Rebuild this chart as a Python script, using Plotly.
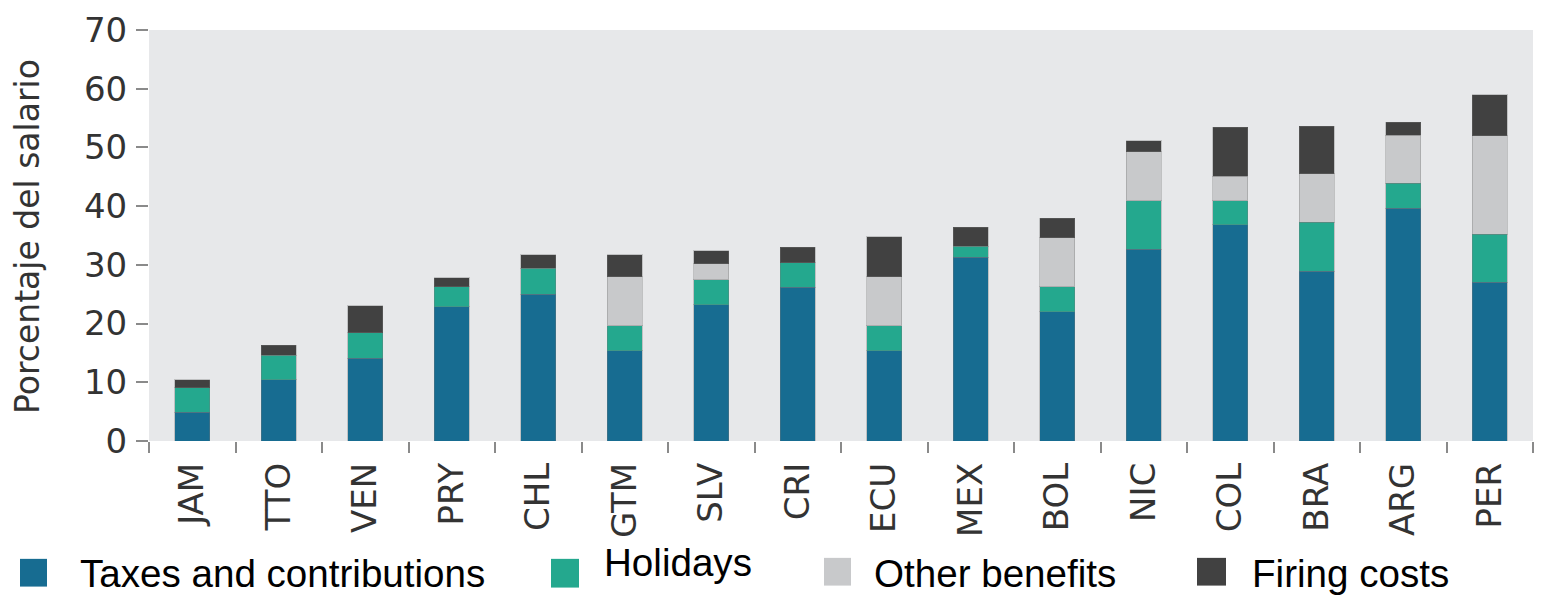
import plotly.graph_objects as go

countries = ["JAM", "TTO", "VEN", "PRY", "CHL", "GTM", "SLV", "CRI",
             "ECU", "MEX", "BOL", "NIC", "COL", "BRA", "ARG", "PER"]
taxes    = [4.9, 10.4, 14.1, 22.9, 25.0, 15.4, 23.2, 26.2, 15.4, 31.3, 22.0, 32.7, 36.8, 28.9, 39.6, 27.0]
holidays = [4.2, 4.2, 4.3, 3.4, 4.4, 4.2, 4.3, 4.2, 4.2, 1.9, 4.3, 8.2, 4.1, 8.4, 4.3, 8.2]
other    = [0.0, 0.0, 0.0, 0.0, 0.0, 8.4, 2.7, 0.0, 8.4, 0.0, 8.3, 8.4, 4.2, 8.2, 8.2, 16.8]
firing   = [1.3, 1.7, 4.6, 1.5, 2.3, 3.7, 2.2, 2.6, 6.8, 3.2, 3.3, 1.8, 8.3, 8.1, 2.2, 7.0]

series_names = ["Taxes and contributions", "Holidays", "Other benefits", "Firing costs"]
series_values = [taxes, holidays, other, firing]
colors = ["#176C91", "#24A88E", "#C8C9CB", "#414141"]

W, H = 1543, 596
L, R, T, B = 149, 10, 26, 155
PW, PH = W - L - R, H - T - B

def px(x):
    return (x - L) / PW

def py(y):
    return (T + PH - y) / PH

fig = go.Figure()
for name, vals, col in zip(series_names, series_values, colors):
    fig.add_trace(go.Bar(
        x=countries, y=vals, name=name, marker_color=col,
        marker_line=dict(width=1, color="rgba(120,120,120,0.35)"),
        showlegend=False,
    ))

tick_font = dict(family="DejaVu Sans", size=34, color="#333333")

fig.update_layout(
    width=W, height=H,
    margin=dict(l=L, r=R, t=T, b=B, pad=0),
    barmode="stack",
    bargap=0.6,
    plot_bgcolor="#E7E8EA",
    paper_bgcolor="#FFFFFF",
    xaxis=dict(
        type="category", tickangle=-90, tickfont=tick_font,
        ticks="outside", tickson="boundaries", ticklen=11, tickwidth=1.5,
        tickcolor="#8A8A8A", showgrid=False, showline=False, zeroline=False,
        ticklabelstandoff=14,
    ),
    yaxis=dict(
        range=[0, 70], dtick=10, tickfont=tick_font,
        ticks="outside", ticklen=12, tickwidth=1.5, tickcolor="#8A8A8A",
        showgrid=False, showline=False, zeroline=False,
        ticklabelstandoff=2,
    ),
)

# y-axis title
fig.add_annotation(
    text="Porcentaje del salario", textangle=-90,
    xref="paper", yref="paper", x=px(28), y=py(235),
    xanchor="center", yanchor="middle", showarrow=False,
    font=dict(family="DejaVu Sans", size=33, color="#333333"),
)

# custom legend
legend_font = dict(family="Liberation Sans, Arial, sans-serif", size=38.6, color="#000000")
legend_boxes = [(20, 47, 560, 588), (551, 579, 560, 589), (824, 851, 559, 587), (1197, 1226, 559, 587)]
legend_text = [(78, 575), (602, 564), (872, 575), (1250, 575)]
for name, col, (x0, x1, y0, y1), (tx, ty) in zip(series_names, colors, legend_boxes, legend_text):
    fig.add_shape(type="rect", xref="paper", yref="paper",
                  x0=px(x0), x1=px(x1), y0=py(y1), y1=py(y0),
                  fillcolor=col, line=dict(width=0))
    fig.add_annotation(text=name, xref="paper", yref="paper",
                       x=px(tx), y=py(ty), xanchor="left", yanchor="middle",
                       showarrow=False, font=legend_font)

fig.write_html(
    "out.html",
    config={"displayModeBar": False},
    post_script="document.body.style.margin='0px';document.body.style.overflow='hidden';",
)
